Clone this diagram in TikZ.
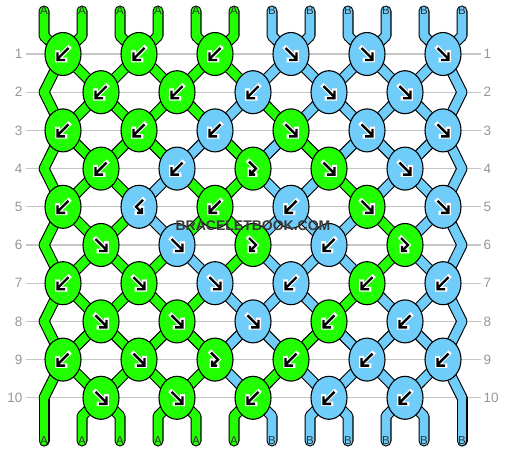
\documentclass[tikz,border=0pt]{standalone}
\usepackage{fontspec}
\setmainfont{Liberation Sans}
\usetikzlibrary{shapes.geometric}

\definecolor{threadA}{RGB}{34,255,0}
\definecolor{threadB}{RGB}{112,205,250}
\colorlet{rimA}{black}
\colorlet{rimB}{black}
\definecolor{rowgray}{RGB}{150,150,150}
\definecolor{linegray}{RGB}{198,198,198}
\definecolor{markgray}{RGB}{58,58,58}

\pgfdeclarelayer{bg}
\pgfsetlayers{bg,main}

\tikzset{
  knotA/.style={ellipse, draw=black, line width=1.1pt, fill=threadA,
    minimum width=36pt, minimum height=43pt, inner sep=0pt},
  knotB/.style={knotA, fill=threadB},
  outer/.style={line width=11pt, line cap=round, line join=round},
  inner/.style={line width=8.8pt, line cap=round, line join=round},
  arrcase/.style={white, line width=4.6pt, line cap=rect, line join=miter},
  arrcore/.style={black, line width=2.4pt, line join=miter},
  rowlbl/.style={text=rowgray, font=\fontsize{13.5}{14}\selectfont, inner sep=3pt},
  endlbl/.style={text=black!80, font=\fontsize{11.5}{12}\selectfont, inner sep=0pt},
  wmark/.style={text=markgray, font=\bfseries\fontsize{14}{14}\selectfont, inner sep=0pt},
  gridline/.style={linegray, line width=1.2pt},
  % knot arrows
  fwd/.pic={
    \draw[arrcase] (-5.5,-6) -- (4.8,4.3) (5.5,-1.5) -- (5.5,6) -- (-2,6);
    \draw[arrcore] (-5.5,-6) -- (4.8,4.3) (5.5,-1.5) -- (5.5,6) -- (-2,6);},
  bwd/.pic={
    \draw[arrcase] (5.5,-6) -- (-4.8,4.3) (-5.5,-1.5) -- (-5.5,6) -- (2,6);
    \draw[arrcore] (5.5,-6) -- (-4.8,4.3) (-5.5,-1.5) -- (-5.5,6) -- (2,6);},
  fwdbwd/.pic={
    \draw[arrcase] (-4,-7) -- (3,0) -- (-2.5,5.5) (-3,1) -- (-3,6) -- (2,6);
    \draw[arrcore] (-4,-7) -- (3,0) -- (-2.5,5.5) (-3,1) -- (-3,6) -- (2,6);},
  bwdfwd/.pic={
    \draw[arrcase] (4,-7) -- (-3,0) -- (2.5,5.5) (3,1) -- (3,6) -- (-2,6);
    \draw[arrcore] (4,-7) -- (-3,0) -- (2.5,5.5) (3,1) -- (3,6) -- (-2,6);},
}

% one pass over all thread pieces: #1 = width style, #2 = colour prefix
\newcommand\threadpass[2]{%
  % top ends
  \foreach \s [count=\p] in {A,A,A,A,A,A,B,B,B,B,B,B} {
    \pgfmathtruncatemacro\odc{2*ceil(\p/2)-1}
    \draw[#1, color=#2\s] (t\p) -- ++(0,25) -- (k1-\odc.center);
  }
  % row r to row r+1, thread colour at each place
  \foreach \r/\lst in {1/{A,A,A,A,A,A,B,B,B,B,B,B},
                       2/{A,A,A,A,A,B,A,B,B,B,B,B},
                       3/{A,A,A,A,B,A,B,A,B,B,B,B},
                       4/{A,A,A,B,A,A,B,B,A,B,B,B},
                       5/{A,A,A,B,A,A,B,B,B,A,B,B},
                       6/{A,A,A,A,B,A,B,B,B,A,B,B},
                       7/{A,A,A,A,A,B,B,B,A,B,B,B},
                       8/{A,A,A,A,A,B,B,A,B,B,B,B},
                       9/{A,A,A,A,A,B,A,B,B,B,B,B}} {
    \pgfmathtruncatemacro\nxt{\r+1}
    \foreach \s [count=\p] in \lst {
      \pgfmathtruncatemacro\odc{2*ceil(\p/2)-1}
      \pgfmathtruncatemacro\evc{2*floor(\p/2)}
      \pgfmathtruncatemacro\fromc{mod(\r,2)==1 ? \odc : \evc}
      \pgfmathtruncatemacro\toc{mod(\r,2)==1 ? \evc : \odc}
      \draw[#1, color=#2\s] (k\r-\fromc.center) -- (k\nxt-\toc.center);
    }
  }
  % bottom ends
  \foreach \s [count=\p] in {A,A,A,A,A,A,B,B,B,B,B,B} {
    \pgfmathtruncatemacro\evc{2*floor(\p/2)}
    \draw[#1, color=#2\s] (b\p) -- ++(0,-25) -- (k10-\evc.center);
  }
}

\begin{document}
\begin{tikzpicture}[x=1pt,y=-1pt]
\useasboundingbox (0,0) rectangle (506,452);

% thread ends and side turns
\foreach \p in {1,...,12} {
  \coordinate (t\p) at ({6+38*\p},11);
  \coordinate (b\p) at ({6+38*\p},441);
}
\foreach \r in {2,4,...,10} {
  \coordinate (k\r-0) at (44,{15.8+38.2*\r});
  \coordinate (k\r-12) at (462,{15.8+38.2*\r});
}

% knots
\foreach \r/\c/\s/\t in {
  1/1/A/bwd, 1/3/A/bwd, 1/5/A/bwd, 1/7/B/fwd, 1/9/B/fwd, 1/11/B/fwd,
  2/2/A/bwd, 2/4/A/bwd, 2/6/B/bwd, 2/8/B/fwd, 2/10/B/fwd,
  3/1/A/bwd, 3/3/A/bwd, 3/5/B/bwd, 3/7/A/fwd, 3/9/B/fwd, 3/11/B/fwd,
  4/2/A/bwd, 4/4/B/bwd, 4/6/A/fwdbwd, 4/8/A/fwd, 4/10/B/fwd,
  5/1/A/bwd, 5/3/B/bwdfwd, 5/5/A/bwd, 5/7/B/bwd, 5/9/A/fwd, 5/11/B/fwd,
  6/2/A/fwd, 6/4/B/fwd, 6/6/A/fwdbwd, 6/8/B/bwd, 6/10/A/fwdbwd,
  7/1/A/bwd, 7/3/A/fwd, 7/5/B/fwd, 7/7/B/bwd, 7/9/A/bwd, 7/11/B/bwd,
  8/2/A/fwd, 8/4/A/fwd, 8/6/B/fwd, 8/8/A/bwd, 8/10/B/bwd,
  9/1/A/bwd, 9/3/A/fwd, 9/5/A/fwdbwd, 9/7/A/bwd, 9/9/B/bwd, 9/11/B/bwd,
  10/2/A/fwd, 10/4/A/fwd, 10/6/A/bwd, 10/8/B/bwd, 10/10/B/bwd}
{
  \node[knot\s] (k\r-\c) at ({25+38*\c},{15.8+38.2*\r}) {};
  \pic at (k\r-\c) {\t};
}

\begin{pgfonlayer}{bg}
% row numbers and lines
\foreach \r in {1,...,10} {
  \node[rowlbl, anchor=east] (lft\r) at (25.5,{15.8+38.2*\r}) {\r};
  \node[rowlbl, anchor=west] (rgt\r) at (480.5,{15.8+38.2*\r}) {\r};
  \draw[gridline] (lft\r) -- (rgt\r);
}
% threads
\threadpass{outer}{rim}
\threadpass{inner}{thread}
\end{pgfonlayer}

% letters on the thread ends
\foreach \s [count=\p] in {A,A,A,A,A,A,B,B,B,B,B,B} {
  \node[endlbl] (top\p) at (t\p) {\s};
  \node[endlbl] (bot\p) at (b\p) {\s};
}

% watermark
\node[wmark] (mark) at (253,225.5) {BRACELETBOOK.COM};

\end{tikzpicture}
\end{document}
